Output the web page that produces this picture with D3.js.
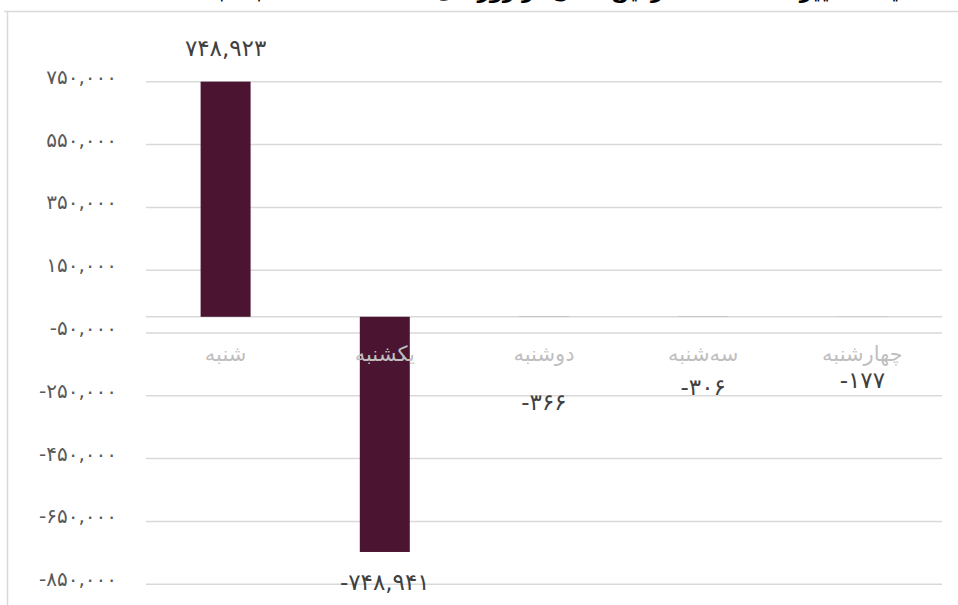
<!DOCTYPE html>
<html><head><meta charset="utf-8">
<script src="https://cdn.jsdelivr.net/npm/d3@7"></script>
<style>body{margin:0;background:#fff;overflow:hidden}</style></head>
<body><svg id="c" width="958" height="605"></svg>
<script>
// ---- data ----
const categories = ["شنبه", "یکشنبه", "دوشنبه", "سه‌شنبه", "چهارشنبه"];
const values = [748923, -748941, -366, -306, -177];
const yTicks = [750000, 550000, 350000, 150000, -50000, -250000, -450000, -650000, -850000];
const titleText = "مقایسه تغییرات تعداد مشترکین فعال در روزهای مختلف هفته نسبت به هفته گذشته";

// ---- layout (not data) ----
const labelDy = [-26, 38, 93, 78, 71];
const W = 958, H = 605;
const plot = {left: 146, right: 942, top: 81.3, bottom: 583.7};

const toFa = s => s.replace(/[0-9]/g, d => "۰۱۲۳۴۵۶۷۸۹"[+d]);
const fmt = v => toFa(d3.format(",")(v)).replace("−", "-");

const svg = d3.select("#c");
const font = "'DejaVu Sans', sans-serif";

// chart frame
svg.append("rect").attr("x", 7.5).attr("y", 11.5).attr("width", W).attr("height", H)
  .attr("fill", "none").attr("stroke", "#d9d9d9").attr("stroke-width", 1.5);
svg.append("line").attr("x1", 4).attr("x2", 8).attr("y1", 11.5).attr("y2", 11.5)
  .attr("stroke", "#d9d9d9").attr("stroke-width", 1.5);

// title (cut off at the top, as in the reference)
svg.append("text").attr("x", 935).attr("y", -2).attr("text-anchor", "end")
  .attr("font-family", font).attr("font-weight", "bold").attr("font-size", 21)
  .attr("fill", "#000").text(titleText);

const x = d3.scaleBand().domain(categories).range([plot.left, plot.right]).paddingInner(0).paddingOuter(0);
const y = d3.scaleLinear().domain([-850000, 750000]).range([plot.bottom, plot.top]);
const barW = x.bandwidth() * 0.314;

// gridlines + tick labels via axis
const yAxis = d3.axisLeft(y).tickValues(yTicks).tickSize(-(plot.right - plot.left)).tickFormat(fmt);
const gy = svg.append("g").attr("transform", `translate(${plot.left},0)`).call(yAxis);
gy.select(".domain").remove();
gy.selectAll(".tick line").attr("stroke", "#d9d9d9").attr("stroke-width", 1.5);
gy.selectAll(".tick text").attr("x", 117 - plot.left).attr("dy", 0).attr("y", 2)
  .attr("font-family", font).attr("font-size", 20).attr("fill", "#595959").attr("text-anchor", "end");

// zero axis line
svg.append("line").attr("x1", plot.left).attr("x2", plot.right)
  .attr("y1", y(0)).attr("y2", y(0)).attr("stroke", "#d9d9d9").attr("stroke-width", 1.5);

// bars
svg.append("g").selectAll("rect").data(values).join("rect")
  .attr("x", (d, i) => x(categories[i]) + x.bandwidth() / 2 - barW / 2)
  .attr("width", barW)
  .attr("y", d => Math.min(y(d), y(0)))
  .attr("height", d => Math.abs(y(d) - y(0)))
  .attr("fill", "#4b1532");

// category labels
const xAxis = d3.axisBottom(x).tickSize(0);
const gx = svg.append("g").attr("transform", `translate(0,${y(0)})`).call(xAxis);
gx.select(".domain").remove();
gx.selectAll(".tick text").attr("y", 44).attr("dy", 0)
  .attr("font-family", font).attr("font-size", 21).attr("fill", "#bfbfbf");

// data labels
svg.append("g").selectAll("text").data(values).join("text")
  .attr("x", (d, i) => x(categories[i]) + x.bandwidth() / 2)
  .attr("y", (d, i) => y(d) + labelDy[i])
  .attr("text-anchor", "middle")
  .attr("font-family", font).attr("font-size", 23).attr("fill", "#404040")
  .text(d => fmt(d));
</script></body></html>
